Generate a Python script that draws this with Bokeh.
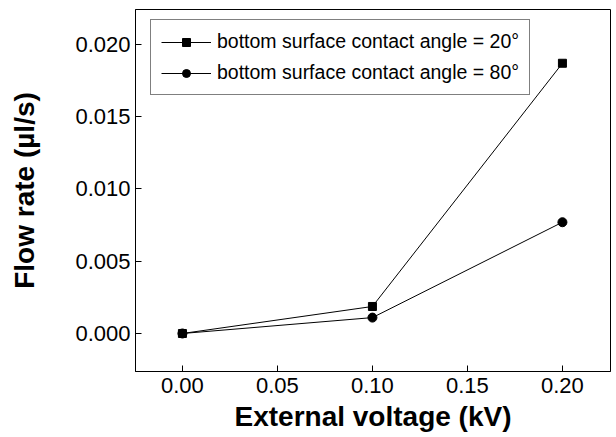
from bokeh.plotting import figure
from bokeh.models import FixedTicker, NumeralTickFormatter, Range1d, Legend, LegendItem
from bokeh.embed import file_html
from bokeh.resources import INLINE

voltage = [0.0, 0.1, 0.2]
flow_20 = [0.0, 0.00187, 0.0187]
flow_80 = [0.0, 0.0011, 0.0077]
label_20 = "bottom surface contact angle = 20°"
label_80 = "bottom surface contact angle = 80°"
x_ticks = [0.0, 0.05, 0.10, 0.15, 0.20]
y_ticks = [0.0, 0.005, 0.010, 0.015, 0.020]

FONT = "Liberation Sans"

p = figure(width=616, height=437, output_backend="svg", toolbar_location=None,
           x_range=Range1d(-0.0247, 0.2253), y_range=Range1d(-0.00263, 0.02242),
           min_border_left=135, min_border_right=6, min_border_top=9, min_border_bottom=66)
p.background_fill_color = "white"
p.border_fill_color = "white"
p.outline_line_color = "black"
p.outline_line_width = 1
p.xgrid.visible = False
p.ygrid.visible = False

for ax in (p.xaxis[0], p.yaxis[0]):
    ax.major_tick_in = 6
    ax.major_tick_out = 0
    ax.minor_tick_in = 0
    ax.minor_tick_out = 0
    ax.axis_line_color = "black"
    ax.major_tick_line_color = "black"
    ax.major_label_text_font = FONT
    ax.major_label_text_font_size = "22px"
    ax.major_label_text_color = "black"
    ax.axis_label_text_font = FONT
    ax.axis_label_text_font_size = "28px"
    ax.axis_label_text_font_style = "bold"
    ax.axis_label_text_color = "black"

p.xaxis.ticker = FixedTicker(ticks=x_ticks)
p.yaxis.ticker = FixedTicker(ticks=y_ticks)
p.xaxis.formatter = NumeralTickFormatter(format="0.00")
p.yaxis.formatter = NumeralTickFormatter(format="0.000")
p.xaxis.axis_label = "External voltage (kV)"
p.yaxis.axis_label = "Flow rate (µl/s)"
p.xaxis.major_label_standoff = 6
p.yaxis.major_label_standoff = 5
p.xaxis.axis_label_standoff = 5
p.yaxis.axis_label_standoff = 32

l1 = p.line(voltage, flow_20, line_color="black", line_width=1)
m1 = p.scatter(voltage, flow_20, marker="square", size=8, fill_color="black", line_color="black")
l2 = p.line(voltage, flow_80, line_color="black", line_width=1)
m2 = p.scatter(voltage, flow_80, marker="circle", size=9, fill_color="black", line_color="black")

legend = Legend(items=[LegendItem(label=label_20, renderers=[l1, m1]),
                       LegendItem(label=label_80, renderers=[l2, m2])],
                location=(15, 276))
legend.label_text_font = FONT
legend.label_text_font_size = "19.5px"
legend.label_text_color = "black"
legend.glyph_width = 50
legend.glyph_height = 20
legend.label_height = 20
legend.spacing = 8
legend.padding = 10
legend.margin = 0
legend.label_standoff = 6
legend.border_line_color = "black"
legend.border_line_width = 1
legend.background_fill_color = "white"
legend.background_fill_alpha = 1
p.add_layout(legend, "center")

open("out.html", "w").write(file_html(p, INLINE))
